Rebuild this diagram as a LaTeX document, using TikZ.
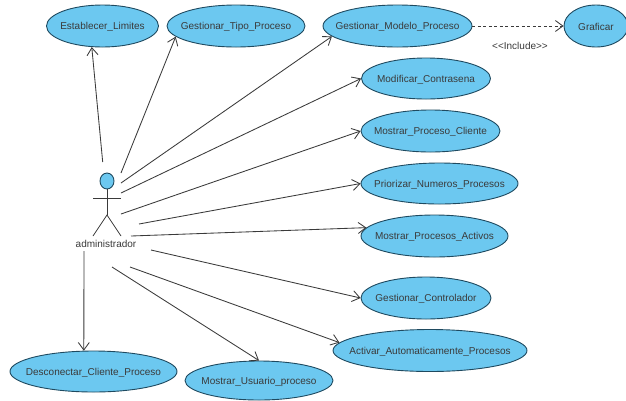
\documentclass[tikz,border=0pt]{standalone}
\usepackage{fontspec}
\setmainfont{Liberation Sans}
\usetikzlibrary{shapes.geometric,arrows.meta}
\definecolor{ucfill}{HTML}{6CC8F0}
\definecolor{ucedge}{HTML}{1F4A60}
\definecolor{ink}{HTML}{3A3A3A}
\tikzset{
  uc/.style={ellipse,draw=ucedge,fill=ucfill,line width=0.9pt,inner sep=0pt},
  uctext/.style={text=ink,inner sep=0pt,yshift=-1pt,font=\fontsize{10}{12}\selectfont},
  assoc/.style={draw=ink,line width=0.85pt,-{Straight Barb[length=7.5pt,width=11pt,line width=0.85pt]}},
  incl/.style={assoc,dash pattern=on 3pt off 2.5pt},
  limb/.style={draw=ink,line width=0.8pt},
  lab/.style={text=ink,inner sep=0pt,font=\fontsize{10}{12}\selectfont}
}
\begin{document}
\begin{tikzpicture}[x=1pt,y=-1pt]
\useasboundingbox[fill=white] (0,0) rectangle (626,400);
\node[uc,minimum width=112pt,minimum height=42pt,label={[uctext]center:Establecer\_Limites}] (lim) at (102.5,26) {};
\node[uc,minimum width=138pt,minimum height=42pt,label={[uctext]center:Gestionar\_Tipo\_Proceso}] (tip) at (236,26) {};
\node[uc,minimum width=149pt,minimum height=42pt,label={[uctext]center:Gestionar\_Modelo\_Proceso}] (mod) at (397.5,26) {};
\node[uc,minimum width=64pt,minimum height=42pt,label={[uctext]center:Graficar}] (gra) at (596,26) {};
\node[uc,minimum width=129pt,minimum height=41pt,label={[uctext]center:Modificar\_Contrasena}] (con) at (426,78.5) {};
\node[uc,minimum width=139pt,minimum height=42pt,label={[uctext]center:Mostrar\_Proceso\_Cliente}] (cli) at (430.5,131) {};
\node[uc,minimum width=157pt,minimum height=41pt,label={[uctext]center:Priorizar\_Numeros\_Procesos}] (pri) at (439.5,183.5) {};
\node[uc,minimum width=147pt,minimum height=42pt,label={[uctext]center:Mostrar\_Procesos\_Activos}] (act) at (434.5,236) {};
\node[uc,minimum width=130pt,minimum height=42pt,label={[uctext]center:Gestionar\_Controlador}] (ctl) at (426,298) {};
\node[uc,minimum width=194pt,minimum height=42pt,label={[uctext]center:Activar\_Automaticamente\_Procesos}] (aut) at (430,350.5) {};
\node[uc,minimum width=167pt,minimum height=41pt,label={[uctext]center:Desconectar\_Cliente\_Proceso}] (des) at (93.5,371.5) {};
\node[uc,minimum width=148pt,minimum height=39pt,label={[uctext]center:Mostrar\_Usuario\_proceso}] (usu) at (259,380.5) {};
% actor
\node[ellipse,draw=ucedge,fill=ucfill,line width=0.9pt,minimum width=14pt,minimum height=16pt,inner sep=0pt] (head) at (107,181) {};
\coordinate (larm) at (93,198);
\coordinate (rarm) at (121,198);
\coordinate (hip) at (107,215);
\coordinate (lfoot) at (93,236);
\coordinate (rfoot) at (121,236);
\draw[limb] (head.south) -- (hip);
\draw[limb] (larm) -- (rarm);
\draw[limb] (lfoot) -- (hip) -- (rfoot);
\node[lab] (admin) at (106,244) {administrador};
% connector start points
\coordinate (s1) at (102.7,162);
\coordinate (s2) at (121,173);
\coordinate (s3) at (121,183);
\coordinate (s4) at (121,193);
\coordinate (s5) at (121,214);
\coordinate (s6) at (139,224);
\coordinate (s7) at (131,236);
\coordinate (s8) at (151,250);
\coordinate (s9) at (130,267);
\coordinate (s10) at (112,267);
\coordinate (s11) at (84,251);
\draw[assoc] (s1) -- (lim.243);
\draw[assoc] (s2) -- (tip.190.6);
\draw[assoc] (s3) -- (mod.189.8);
\draw[assoc] (s4) -- (con.west);
\draw[assoc] (s5) -- (cli.west);
\draw[assoc] (s6) -- (pri.west);
\draw[assoc] (s7) -- (act.173.5);
\draw[assoc] (s8) -- (ctl.west);
\draw[assoc] (s9) -- (aut.175);
\draw[assoc] (s10) -- (usu.north);
\draw[assoc] (s11) -- (des.115);
\draw[incl] (mod.east) -- (gra.west);
\node[lab] (inc) at (520,45.5) {<{}<Include>{}>};
\end{tikzpicture}
\end{document}
